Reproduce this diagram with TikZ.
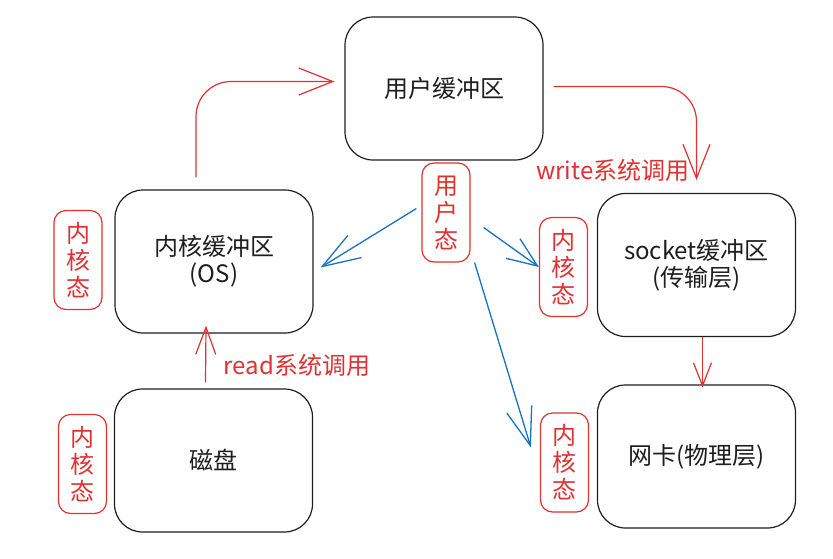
\documentclass[tikz,border=0pt]{standalone}
\usepackage{fontspec}
\setmainfont{Noto Sans CJK SC}
\usetikzlibrary{arrows.meta}
\definecolor{xred}{HTML}{E03131}
\definecolor{xblue}{HTML}{1971C2}
\definecolor{xink}{HTML}{1E1E1E}
\begin{document}
\begin{tikzpicture}[x=1pt,y=-1pt,
  bufbox/.style={draw=xink, line width=1.2pt, rounded corners=28pt,
    minimum width=198pt, minimum height=143pt, inner sep=0pt, align=center,
    text=xink, font=\fontsize{24}{27}\selectfont},
  statebox/.style={draw=xred, line width=1.2pt, rounded corners=12pt,
    minimum width=48pt, minimum height=99pt, inner sep=0pt, align=center,
    text=xred, font=\fontsize{24}{27}\selectfont},
  calllabel/.style={text=xred, inner sep=0pt, font=\fontsize{24}{27}\selectfont},
  redarrow/.style={draw=xred, line width=1.2pt},
  bluearrow/.style={draw=xblue, line width=1.3pt}]
\useasboundingbox (0,0) rectangle (833,558);

% buffers
\node[bufbox] (ubuf) at (444,88.5) {用户缓冲区};
\node[bufbox] (kbuf) at (214,261.5) {内核缓冲区\\(OS)};
\node[bufbox] (disk) at (213.5,460.5) {磁盘};
\node[bufbox] (sock) at (696.5,265) {socket缓冲区\\(传输层)};
\node[bufbox] (nic) at (696.5,456.5) {网卡(物理层)};

% state labels
\node[statebox] (ustate) at (446,212.5) {用\\户\\态};
\node[statebox] (kst1) at (78,260) {内\\核\\态};
\node[statebox] (kst3) at (82.5,464) {内\\核\\态};
\node[statebox] (kst2) at (563.5,267) {内\\核\\态};
\node[statebox] (kst4) at (564.5,462.5) {内\\核\\态};

% call labels
\node[calllabel] (wlabel) at (613,170) {write系统调用};
\node[calllabel] (rlabel) at (297,365) {read系统调用};

% red arrows
\draw[redarrow, rounded corners=35pt, -{Straight Barb[length=34pt,width=27pt]}]
  ([xshift=-18pt,yshift=12pt]kbuf.north) |- ([xshift=-10pt,yshift=7pt]ubuf.west);
\draw[redarrow, rounded corners=35pt, -{Straight Barb[length=34pt,width=27pt]}]
  ([xshift=10pt,yshift=2pt]ubuf.east) -| ([xshift=0pt,yshift=13pt]sock.north);
\draw[redarrow, -{Straight Barb[length=23pt,width=18pt]}]
  ([xshift=6pt]sock.south) -- ([xshift=6pt,yshift=-3pt]nic.north);
\draw[redarrow, -{Straight Barb[length=27pt,width=20pt]}]
  ([xshift=-8pt,yshift=6pt]disk.north) -- ([xshift=-8pt,yshift=8pt]kbuf.south);

% blue arrows
\draw[bluearrow, -{Straight Barb[length=38pt,width=26pt]}]
  ([xshift=-5pt,yshift=4pt]ustate.west) -- ([xshift=7pt,yshift=-6pt]kbuf.east);
\draw[bluearrow, -{Straight Barb[length=30pt,width=24pt]}]
  ([xshift=13pt,yshift=-15pt]ustate.east) -- (kst2.west);
\draw[bluearrow, -{Straight Barb[length=38pt,width=26pt]}]
  ([xshift=4pt]ustate.south east) -- ([xshift=-9pt,yshift=15pt]kst4.west);
\end{tikzpicture}
\end{document}
